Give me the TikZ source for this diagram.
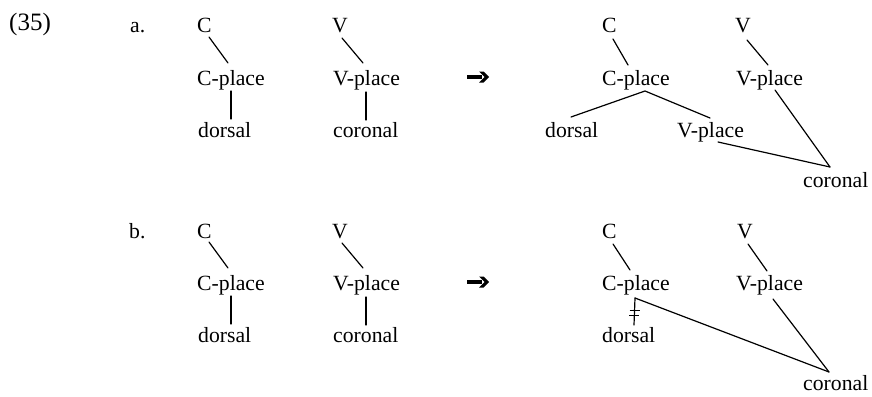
\documentclass[tikz,border=0pt]{standalone}
\usepackage{fontspec}
\setmainfont{Liberation Serif}
\begin{document}
\begin{tikzpicture}[x=1pt,y=-1pt,
  lbl/.style={inner sep=0pt, anchor=base west, font=\fontsize{21.7}{26}\selectfont},
  exnum/.style={inner sep=0pt, anchor=base west, font=\fontsize{25}{30}\selectfont},
  edge/.style={line width=1.2pt, line cap=round},
  pics/bigarrow/.style={code={
    \fill (-11,-2.2) rectangle (4,2.2);
    \fill (1,-5.5) -- (5.5,-5.5) -- (11,0) -- (5.5,5.5) -- (1,5.5) -- (6.5,0) -- cycle;}}]
\useasboundingbox (0,0) rectangle (872,396);

% example number and sub-labels
\node[exnum] (num) at (9,30.5) {(35)};
\node[lbl] (la) at (130,33) {a.};
\node[lbl] (lb) at (129,238) {b.};

% ---------- (a) input ----------
\node[lbl] (Ca)   at (197,33)  {C};
\node[lbl] (Cpa)  at (197,85)  {C-place};
\node[lbl] (dra)  at (198,137) {dorsal};
\node[lbl] (Va)   at (332,33)  {V};
\node[lbl] (Vpa)  at (333,85)  {V-place};
\node[lbl] (cra)  at (333,137) {coronal};
\draw[edge] ([shift={(12,4)}]Ca.base west)  -- ([shift={(31,-22)}]Cpa.base west);
\draw[edge] ([shift={(34,6)}]Cpa.base west) -- ([shift={(33,-18)}]dra.base west);
\draw[edge] ([shift={(10,5)}]Va.base west)  -- ([shift={(30,-22)}]Vpa.base west);
\draw[edge] ([shift={(33,7)}]Vpa.base west) -- ([shift={(33,-17)}]cra.base west);

\pic at (478,77) {bigarrow};

% ---------- (a) output ----------
\node[lbl] (Cx)   at (602,33)  {C};
\node[lbl] (Cpx)  at (602,85)  {C-place};
\node[lbl] (drx)  at (545,137) {dorsal};
\node[lbl] (Vlx)  at (677,137) {V-place};
\node[lbl] (Vx)   at (735,33)  {V};
\node[lbl] (Vpx)  at (736,85)  {V-place};
\node[lbl] (crx)  at (803,187) {coronal};
\coordinate (apx) at ([shift={(43,6)}]Cpx.base west);
\coordinate (tipx) at ([shift={(27,-20)}]crx.base west);
\draw[edge] ([shift={(11,6)}]Cx.base west) -- ([shift={(26,-20)}]Cpx.base west);
\draw[edge] ([shift={(26,-20)}]drx.base west) -- (apx) -- ([shift={(33,-19)}]Vlx.base west);
\draw[edge] ([shift={(41,5)}]Vlx.base west) -- (tipx);
\draw[edge] ([shift={(12,7)}]Vx.base west) -- ([shift={(32,-20)}]Vpx.base west);
\draw[edge] ([shift={(39,5)}]Vpx.base west) -- (tipx);

% ---------- (b) input ----------
\node[lbl] (Cb)   at (197,238) {C};
\node[lbl] (Cpb)  at (197,290) {C-place};
\node[lbl] (drb)  at (198,342) {dorsal};
\node[lbl] (Vb)   at (332,238) {V};
\node[lbl] (Vpb)  at (333,290) {V-place};
\node[lbl] (crb)  at (333,342) {coronal};
\draw[edge] ([shift={(12,4)}]Cb.base west)  -- ([shift={(31,-22)}]Cpb.base west);
\draw[edge] ([shift={(34,6)}]Cpb.base west) -- ([shift={(33,-18)}]drb.base west);
\draw[edge] ([shift={(10,5)}]Vb.base west)  -- ([shift={(30,-22)}]Vpb.base west);
\draw[edge] ([shift={(33,7)}]Vpb.base west) -- ([shift={(33,-17)}]crb.base west);

\pic at (478,282) {bigarrow};

% ---------- (b) output ----------
\node[lbl] (Cy)   at (602,238) {C};
\node[lbl] (Cpy)  at (602,290) {C-place};
\node[lbl] (dry)  at (602,342) {dorsal};
\node[lbl] (Vy)   at (737,238) {V};
\node[lbl] (Vpy)  at (736,290) {V-place};
\node[lbl] (cry)  at (803,390) {coronal};
\coordinate (apy) at ([shift={(33,8)}]Cpy.base west);
\coordinate (tipy) at ([shift={(26,-18)}]cry.base west);
\draw[edge] ([shift={(11,6)}]Cy.base west) -- ([shift={(28,-20)}]Cpy.base west);
\draw[edge] (apy) -- (tipy);
% delinked association line with double crossbar
\draw[edge] (apy) -- ([shift={(32,-17)}]dry.base west)
  coordinate[pos=0.45] (k1) coordinate[pos=0.64] (k2);
\draw[line width=1.1pt] ([xshift=-5pt]k1) -- ([xshift=5pt]k1);
\draw[line width=1.1pt] ([xshift=-5pt]k2) -- ([xshift=5pt]k2);
\draw[edge] ([shift={(11,6)}]Vy.base west) -- ([shift={(31,-19)}]Vpy.base west);
\draw[edge] ([shift={(37,9)}]Vpy.base west) -- (tipy);
\end{tikzpicture}
\end{document}
